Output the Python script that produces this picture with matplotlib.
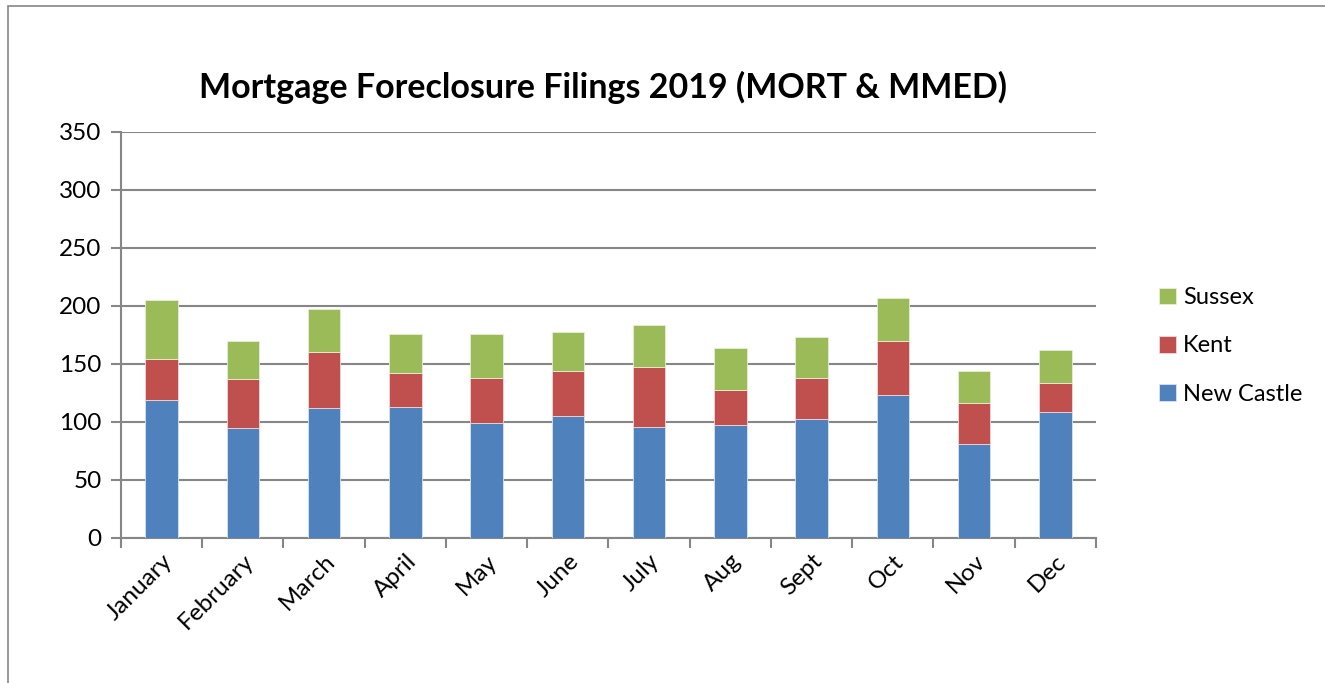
import matplotlib
matplotlib.use("Agg")
import matplotlib.pyplot as plt
from matplotlib.patches import Rectangle
import numpy as np

months = ['January', 'February', 'March', 'April', 'May', 'June',
          'July', 'Aug', 'Sept', 'Oct', 'Nov', 'Dec']
new_castle = [119, 95, 112, 113, 99, 105, 96, 97, 103, 123, 81, 109]
kent = [35, 42, 48, 29, 39, 39, 51, 31, 35, 47, 35, 25]
sussex = [51, 33, 37, 34, 38, 34, 37, 36, 35, 37, 28, 28]

plt.rcParams['font.family'] = ['Lato', 'DejaVu Sans']

fig = plt.figure(figsize=(13.25, 6.83), dpi=100)
ax = fig.add_axes([121/1325, 1 - 538/683, (1096 - 121)/1325, (538 - 132)/683])

# outer chart border (only top and left edge visible in the crop)
fig.patches.append(Rectangle((8/1325, -0.1), 1.2, 1 - 6/683 + 0.1, transform=fig.transFigure,
                             fill=False, edgecolor='#868686', linewidth=1.2))

x = np.arange(len(months))
w = 0.4
nc = np.array(new_castle)
kt = np.array(kent)
sx = np.array(sussex)
ax.bar(x, nc, w, color='#4f81bd', edgecolor='#dbe4f0', linewidth=0.6, label='New Castle', zorder=3)
ax.bar(x, kt, w, bottom=nc, color='#c0504d', edgecolor='#f0d8d8', linewidth=0.6, label='Kent', zorder=3)
ax.bar(x, sx, w, bottom=nc + kt, color='#9bbb59', edgecolor='#e6eed8', linewidth=0.6, label='Sussex', zorder=3)

ax.set_xlim(-0.5, len(months) - 0.5)
ax.set_ylim(0, 350)
ax.set_yticks(range(0, 351, 50))
ax.yaxis.grid(True, color='#868686', linewidth=1.5, zorder=0)
ax.set_axisbelow(True)

# category boundary tick marks on x
ax.set_xticks(np.arange(-0.5, len(months), 1), minor=False)
ax.set_xticklabels([''] * (len(months) + 1))
ax.set_xticks(x, minor=True)
ax.set_xticklabels(months, minor=True, rotation=45, ha='right', va='top',
                   rotation_mode='anchor', fontsize=17.5)
ax.tick_params(axis='x', which='minor', length=0, pad=9)
ax.tick_params(axis='x', which='major', length=7, width=1.5, color='#868686', direction='out')
ax.tick_params(axis='y', length=7, width=1.5, color='#868686', direction='out', labelsize=17.5, pad=7)

for side in ['top', 'right']:
    ax.spines[side].set_visible(False)
for side in ['left', 'bottom']:
    ax.spines[side].set_color('#868686')
    ax.spines[side].set_linewidth(1.5)

fig.text(603/1325, 1 - 87/683, 'Mortgage Foreclosure Filings 2019 (MORT & MMED)',
         ha='center', va='center', fontsize=24.5, fontweight='bold')

handles, labels = ax.get_legend_handles_labels()
ax.legend(handles[::-1], labels[::-1], loc='center left', bbox_to_anchor=(1138/1325, 1 - 346/683),
          bbox_transform=fig.transFigure, frameon=False, fontsize=17,
          handlelength=0.7, handleheight=0.7, handletextpad=0.3, labelspacing=1.15)

fig.savefig('out.png', dpi=100, facecolor='white')
